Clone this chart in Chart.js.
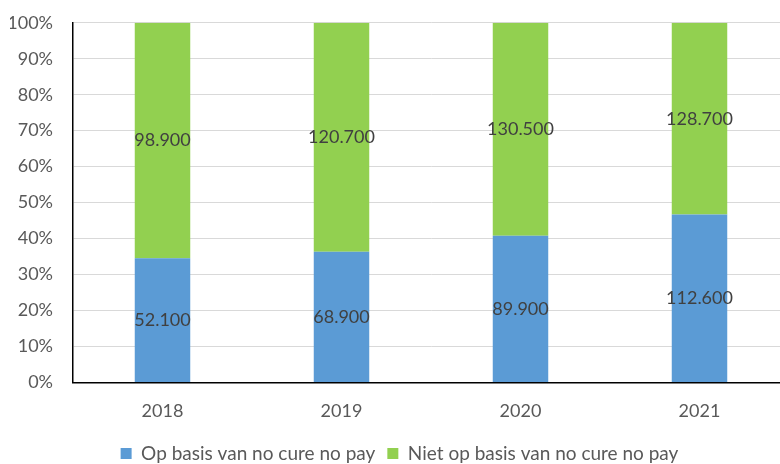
<!DOCTYPE html>
<html>
<head>
<meta charset="utf-8">
<script src="https://cdn.jsdelivr.net/npm/chart.js@4"></script>
<style>
  html, body { margin: 0; padding: 0; background: #fff; overflow: hidden; }
  #wrap { width: 816px; height: 473px; overflow: hidden; }
  #chart { position: relative; top: -8px; }
</style>
</head>
<body>
<div id="wrap"><canvas id="chart" width="816" height="481"></canvas></div>
<script>
// Data
const years = ['2018', '2019', '2020', '2021'];
const noCureNoPay = [52100, 68900, 89900, 112600];
const nietNoCureNoPay = [98900, 120700, 130500, 128700];
const percentTicks = [0, 10, 20, 30, 40, 50, 60, 70, 80, 90, 100];

const fontFamily = 'Lato, "Open Sans", sans-serif';

// share of each year's total, for the 100% stacked bars
function share(values) {
    return values.map((v, i) => v / (noCureNoPay[i] + nietNoCureNoPay[i]) * 100);
}

function formatNumber(num) {
    return num.toString().replace(/\B(?=(\d{3})+(?!\d))/g, '.');
}

// Draws the absolute numbers in the middle of each segment
const valueLabels = {
    id: 'valueLabels',
    afterDatasetsDraw(chart) {
        const ctx = chart.ctx;
        ctx.save();
        ctx.font = '18px ' + fontFamily;
        ctx.fillStyle = '#404040';
        ctx.textAlign = 'center';
        ctx.textBaseline = 'middle';
        chart.data.datasets.forEach((ds, di) => {
            chart.getDatasetMeta(di).data.forEach((bar, i) => {
                const y = (bar.y + bar.base) / 2;
                ctx.fillText(formatNumber(ds.raw[i]), bar.x, y);
            });
        });
        ctx.restore();
    }
};

new Chart(document.getElementById('chart'), {
    type: 'bar',
    data: {
        labels: years,
        datasets: [{
            label: 'Op basis van no cure no pay',
            data: share(noCureNoPay),
            raw: noCureNoPay,
            backgroundColor: '#5B9BD5',
            categoryPercentage: 1,
            barPercentage: 0.31
        }, {
            label: 'Niet op basis van no cure no pay',
            data: share(nietNoCureNoPay),
            raw: nietNoCureNoPay,
            backgroundColor: '#92D050',
            categoryPercentage: 1,
            barPercentage: 0.31
        }]
    },
    options: {
        responsive: false,
        animation: false,
        layout: { padding: { left: 10, right: 27, top: -2, bottom: 0 } },
        plugins: {
            tooltip: { enabled: false },
            legend: {
                position: 'bottom',
                labels: {
                    boxWidth: 11,
                    boxHeight: 11,
                    padding: 12,
                    color: '#595959',
                    font: { family: fontFamily, size: 19 }
                }
            }
        },
        scales: {
            x: {
                stacked: true,
                afterFit(axis) {
                    axis.height = axis.height - 8;
                },
                grid: { display: false, drawTicks: false },
                border: { color: '#000', width: 1.5 },
                ticks: {
                    color: '#595959',
                    padding: 18,
                    font: { family: fontFamily, size: 18 }
                }
            },
            y: {
                stacked: true,
                min: 0,
                max: 100,
                afterBuildTicks(axis) {
                    axis.ticks = percentTicks.map(v => ({ value: v }));
                },
                afterFit(axis) {
                    axis.width = 63;
                },
                grid: { color: '#D9D9D9', drawTicks: false },
                border: { color: '#000', width: 1.5 },
                ticks: {
                    color: '#595959',
                    padding: 20,
                    callback: v => v + '%',
                    font: { family: fontFamily, size: 18 }
                }
            }
        }
    },
    plugins: [valueLabels]
});
</script>
</body>
</html>
